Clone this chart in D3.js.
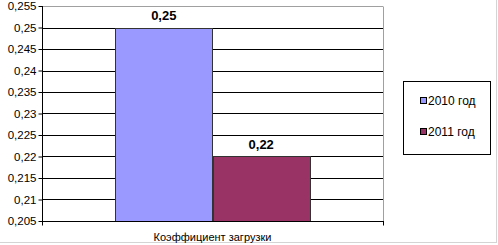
<!DOCTYPE html>
<html><head><meta charset="utf-8">
<script src="https://cdn.jsdelivr.net/npm/d3@7"></script>
<style>body{margin:0;background:#fff}svg{display:block}text{font-family:"Liberation Sans",Arial,sans-serif}</style>
</head><body><svg id="c" width="498" height="245"></svg>
<script>
const categories = ["Коэффициент загрузки"];
const seriesNames = ["2010 год", "2011 год"];
const values2010 = [0.25];
const values2011 = [0.22];
const labels = ["0,25", "0,22"];
const yTicks = [0.205,0.21,0.215,0.22,0.225,0.23,0.235,0.24,0.245,0.25,0.255];
const colors = ["#9999FF", "#993366"];

const svg = d3.select("#c");
const L = 42, R = 383, T = 6, B = 221;
svg.append("rect").attr("x",-1).attr("y",-1).attr("width",497.5).attr("height",243.5)
  .attr("fill","#fff").attr("stroke","#d4d4d4");

const y = d3.scaleLinear().domain([0.205,0.255]).range([B,T]);
const x0 = d3.scaleBand().domain(categories).range([L,R]).paddingInner(0).paddingOuter(0);
const x1 = d3.scaleBand().domain(seriesNames).range([0,x0.bandwidth()]).paddingOuter(0.75).paddingInner(0);

const fmt = v => d3.format(".3~f")(v).replace(".", ",");
svg.append("g").selectAll("line").data(yTicks.filter(t=>t>0.205)).join("line")
  .attr("x1",L).attr("x2",R).attr("y1",d=>Math.round(y(d))+0.5).attr("y2",d=>Math.round(y(d))+0.5)
  .attr("stroke",d=>d===0.255?"#a0a0a0":"#000").attr("stroke-width",1);
svg.append("line").attr("x1",R+0.5).attr("x2",R+0.5).attr("y1",T+0.5).attr("y2",B).attr("stroke","#a0a0a0");

const series = [values2010, values2011];
categories.forEach((c,ci)=>{
  seriesNames.forEach((s,si)=>{
    const v = series[si][ci];
    const bx = x0(c)+x1(s);
    svg.append("rect").attr("x",Math.round(bx)+0.5).attr("y",Math.round(y(v))+0.5)
      .attr("width",Math.round(x1.bandwidth())).attr("height",Math.round(B-y(v)))
      .attr("fill",colors[si]).attr("stroke","#333").attr("stroke-width",1);
    svg.append("text").attr("x",bx+x1.bandwidth()/2).attr("y",y(v)-8)
      .attr("text-anchor","middle").attr("font-weight","bold").attr("font-size",13)
      .text(labels[si]);
  });
});

const ya = d3.axisLeft(y).tickValues(yTicks).tickSize(4).tickFormat(fmt);
const gy = svg.append("g").attr("transform",`translate(${L+0.5},0)`).call(ya);
gy.select(".domain").attr("stroke","#000").attr("d",`M0,${T}V${B+0.5}`);
gy.selectAll(".tick line").attr("stroke","#000");
gy.selectAll(".tick text").attr("font-size",11.5).attr("font-family","Liberation Sans, Arial, sans-serif").attr("fill","#000").attr("x",-6);

const gx = svg.append("g").attr("transform",`translate(0,${B+0.5})`);
gx.append("line").attr("x1",L).attr("x2",R+1).attr("stroke","#000");
gx.selectAll(".tk").data([L,R]).join("line").attr("x1",d=>d+0.5).attr("x2",d=>d+0.5).attr("y1",0).attr("y2",4).attr("stroke","#000");
gx.selectAll("text").data(categories).join("text").attr("x",d=>x0(d)+x0.bandwidth()/2).attr("y",19)
  .attr("text-anchor","middle").attr("font-size",11).text(d=>d);

const lg = svg.append("g");
lg.append("rect").attr("x",403.5).attr("y",81.5).attr("width",87).attr("height",73).attr("fill","#fff").attr("stroke","#000");
seriesNames.forEach((s,i)=>{
  const cy = 100.5 + i*31;
  lg.append("rect").attr("x",420.5).attr("y",cy-3).attr("width",6).attr("height",6).attr("fill",colors[i]).attr("stroke","#000");
  lg.append("text").attr("x",428).attr("y",cy+4.5).attr("font-size",12).text(s);
});
</script></body></html>
